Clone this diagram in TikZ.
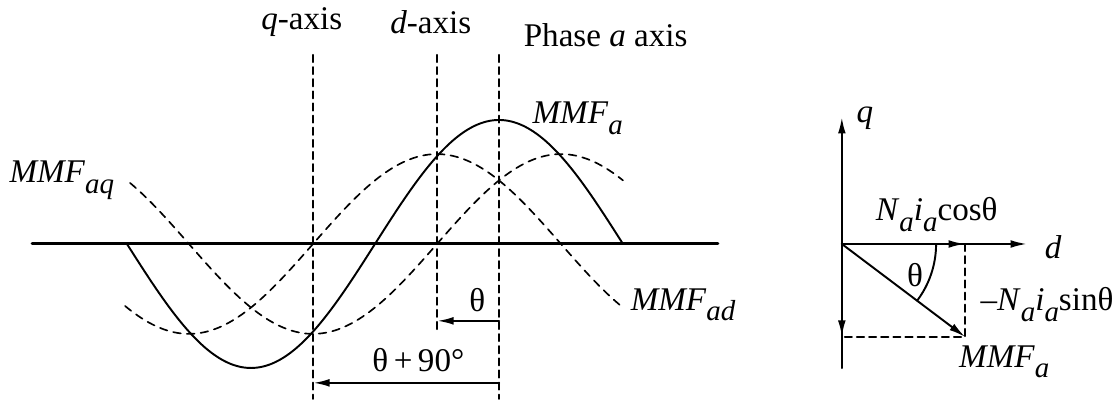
\documentclass[tikz,border=0pt]{standalone}
\usepackage{fontspec}
\setmainfont{Liberation Serif}
\usetikzlibrary{arrows.meta}
\newcommand{\lsub}[1]{\raisebox{-0.7ex}{\fontsize{10.5}{12}\selectfont\textit{#1}}}
\tikzset{
  axisdash/.style={line width=0.7pt,dash pattern=on 2.6pt off 1.8pt},
  curvedash/.style={line width=0.6pt,dash pattern=on 2.8pt off 2.2pt},
  lbl/.style={inner sep=0pt,font=\fontsize{12}{14}\selectfont},
}
\begin{document}
\begin{tikzpicture}[x=0.79cm,y=0.79cm,>={Latex[length=6pt,width=2.8pt]}, line join=round, line cap=round]
        \useasboundingbox (-8.048,-2.565) rectangle (9.984,3.935);
        \def\amp{2} \def\comp{1.45} \def\ytop{3.05}
        % waveform side
        \coordinate (ol) at (-7.53,0); \coordinate (or) at (3.53,0);
        \draw[line width=1.1pt] (ol)--(or);
        \coordinate (qt) at (-3,\ytop); \coordinate (qb) at (-3,-2.5);
        \coordinate (dt) at (-1,\ytop); \coordinate (db) at (-1,-1.45);
        \coordinate (at) at (0,\ytop); \coordinate (ab) at (0,-2.5);
        \draw[axisdash] (qt)--(qb);
        \draw[axisdash] (dt)--(db);
        \draw[axisdash] (at)--(ab);
        \node[lbl] (qlab) at (-3.18,3.58) {\textit{q}-axis};
        \node[lbl] (dlab) at (-1.1,3.58) {\textit{d}-axis};
        \node[lbl] (alab) at (1.72,3.37) {Phase \textit{a} axis};
        \draw[line width=0.7pt,smooth,samples=200,domain=-6:2] plot(\x,{\amp*cos(45*\x)});
        \draw[curvedash,smooth,samples=200,domain=-6.03:2] plot(\x,{\comp*cos(45*(\x+1))});
        \draw[curvedash,smooth,samples=200,domain=-5.95:2] plot(\x,{-\comp*cos(45*(\x+3))});
        \node[lbl] (mmfa) at (1.27,2.03) {\textit{MMF}\lsub{a}};
        \node[lbl] (mmfaq) at (-7.05,1.03) {\textit{MMF}\lsub{aq}};
        \node[lbl] (mmfad) at (2.97,-0.98) {\textit{MMF}\lsub{ad}};
        \coordinate (th1) at (0,-1.24); \coordinate (th2) at (-1,-1.24);
        \draw[->,line width=0.8pt] (th1)--(th2);
        \node[lbl] (thlab) at (-0.35,-0.9) {θ};
        \coordinate (tn1) at (0,-2.24); \coordinate (tn2) at (-3,-2.24);
        \draw[->,line width=0.8pt] (tn1)--(tn2);
        \node[lbl] (tnlab) at (-1.3,-1.87) {θ\,+\,90°};
        % vector side
        \coordinate (O) at (5.53,0);
        \coordinate (qtop) at (5.53,2.05); \coordinate (qbot) at (5.53,-2.0);
        \coordinate (qcomp) at (5.53,-1.5);
        \coordinate (dend) at (8.52,0); \coordinate (dcomp) at (7.52,0);
        \coordinate (tip) at (7.52,-1.5);
        \draw[->,line width=0.8pt] (O)--(qtop);
        \draw[line width=0.8pt] (O)--(qbot);
        \draw[->,line width=0.8pt] (O)--(qcomp);
        \draw[->,line width=0.8pt] (O)--(dend);
        \draw[->,line width=0.8pt] (O)--(dcomp);
        \draw[->,line width=0.7pt] (O)--(tip);
        \draw[axisdash] (dcomp)--(tip)--(qcomp);
        \draw[line width=0.7pt] ([xshift=1.52*0.79cm]O) arc[start angle=0,end angle=-37,radius=1.52];
        \node[lbl] (qax) at (5.9,2.03) {\textit{q}};
        \node[lbl] (dax) at (8.94,-0.05) {\textit{d}};
        \node[lbl] (cosl) at (7.06,0.47) {\textit{N}\lsub{a}\textit{i}\lsub{a}cosθ};
        \node[lbl] (thr) at (6.71,-0.5) {θ};
        \node[lbl] (sinl) at (8.84,-0.98) {–\textit{N}\lsub{a}\textit{i}\lsub{a}sinθ};
        \node[lbl] (mmfr) at (8.15,-1.9) {\textit{MMF}\lsub{a}};
\end{tikzpicture}
\end{document}
